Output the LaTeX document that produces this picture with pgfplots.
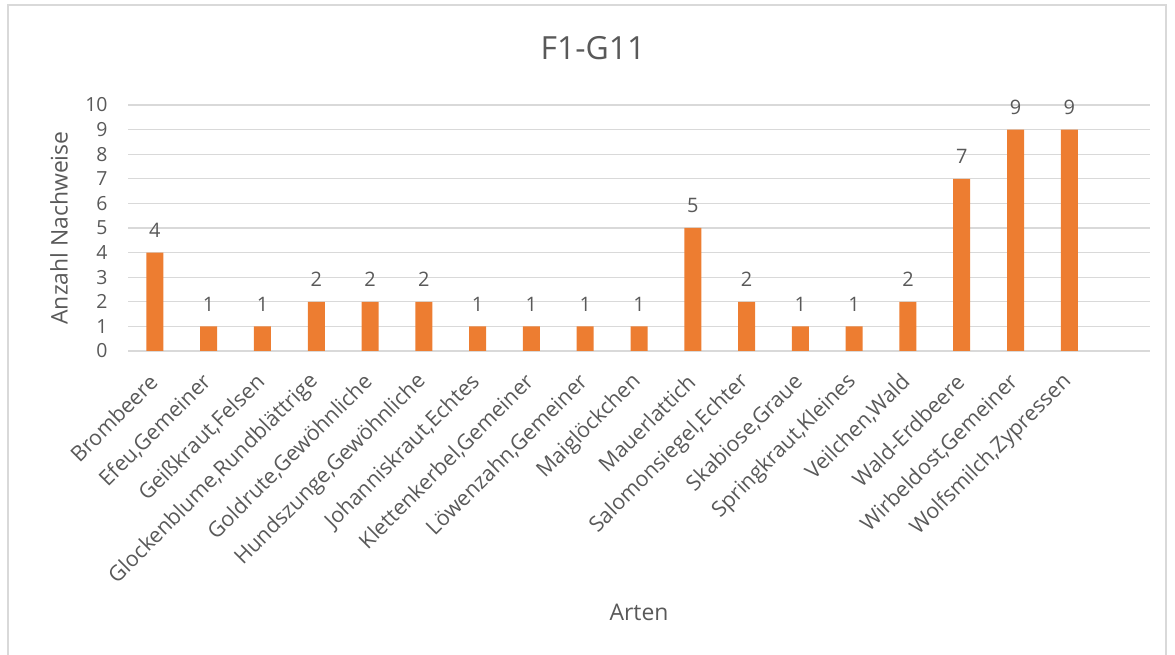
\documentclass[border=0pt]{standalone}
\usepackage{fontspec}
\setmainfont{Open Sans}
\usepackage{pgfplots}
\pgfplotsset{compat=1.18}
\definecolor{barc}{HTML}{ED7D31}
\definecolor{txt}{HTML}{595959}
\definecolor{gridc}{HTML}{D9D9D9}
\begin{document}
\begin{tikzpicture}[x=1bp,y=1bp]
\path[use as bounding box] (0,0) rectangle (1175,655);
\draw[gridc, line width=1.5bp] (8,-5) -- (8,650) -- (1166,650) -- (1166,-5);
\node[txt, font=\fontsize{32}{38}\selectfont] at (593,607) {F1-G11};
\begin{axis}[
  at={(128bp,304bp)}, anchor=south west,
  width=1022bp, height=246bp, scale only axis,
  xmin=-0.5, xmax=18.5, ymin=0, ymax=10,
  ybar, bar width=17bp,
  xtick={0,...,17},
  xticklabels={Brombeere,{Efeu,Gemeiner},{Geißkraut,Felsen},{Glockenblume,Rundblättrige},{Goldrute,Gewöhnliche},{Hundszunge,Gewöhnliche},{Johanniskraut,Echtes},{Klettenkerbel,Gemeiner},{Löwenzahn,Gemeiner},Maiglöckchen,Mauerlattich,{Salomonsiegel,Echter},{Skabiose,Graue},{Springkraut,Kleines},{Veilchen,Wald},Wald-Erdbeere,{Wirbeldost,Gemeiner},{Wolfsmilch,Zypressen}},
  ytick={0,...,10},
  major tick length=0,
  ymajorgrids, grid style={gridc, line width=1.3bp},
  axis x line*=bottom, axis y line*=left,
  x axis line style={gridc, line width=1.5bp, -},
  y axis line style={draw=none},
  tick label style={txt},
  yticklabel style={font=\fontsize{19.5}{22}\selectfont, xshift=-17bp},
  xticklabel style={font=\fontsize{21.5}{25}\selectfont, yshift=-25bp, xshift=1bp, rotate=45, anchor=east},
  /pgf/number format/assume math mode=true,
  nodes near coords,
  nodes near coords style={txt, font=\fontsize{20}{23}\selectfont, anchor=south, yshift=11.5bp},
  xlabel={Arten}, ylabel={Anzahl Nachweise},
  label style={txt, font=\fontsize{23}{27}\selectfont},
  xlabel style={at={(axis description cs:0.5,-1.061)}, anchor=center},
  ylabel style={at={(axis description cs:-0.0675,0.5)}, anchor=center},
  clip=false,
]
\addplot[fill=barc, draw=none] coordinates {
(0,4) (1,1) (2,1) (3,2) (4,2) (5,2) (6,1) (7,1) (8,1) (9,1)
(10,5) (11,2) (12,1) (13,1) (14,2) (15,7) (16,9) (17,9)};
\end{axis}
\end{tikzpicture}
\end{document}
